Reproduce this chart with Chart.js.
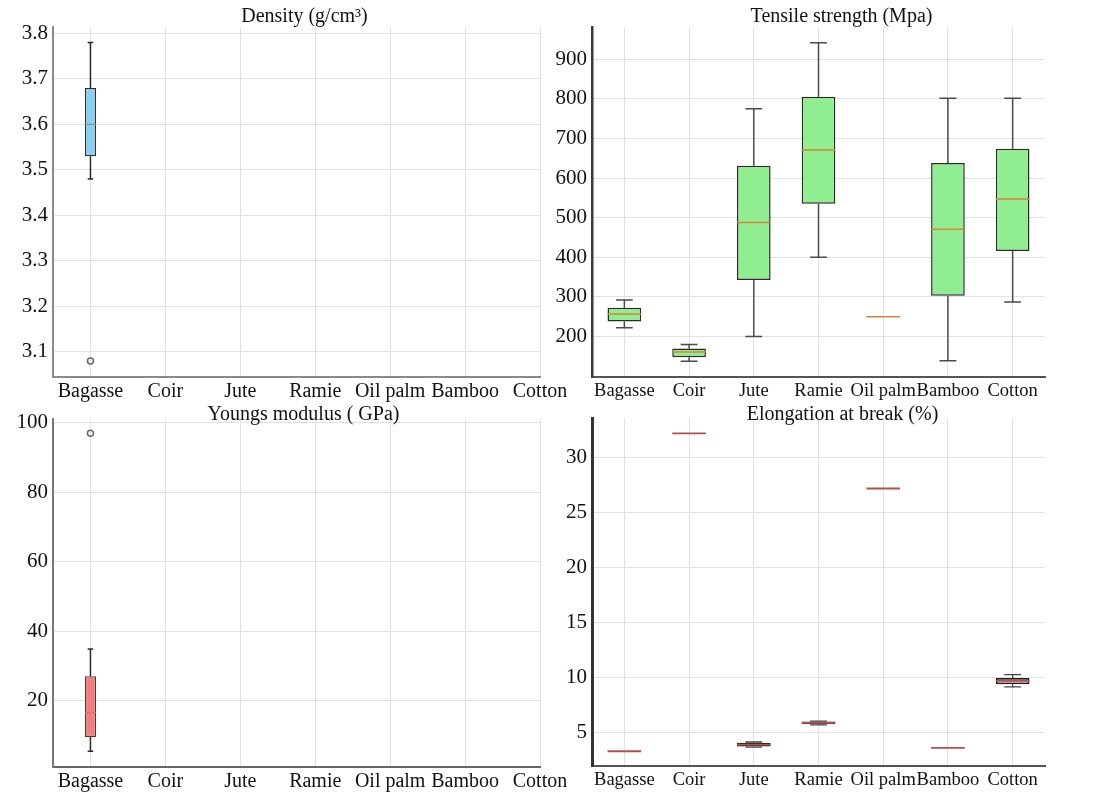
<!DOCTYPE html>
<html>
<head>
<meta charset="utf-8">
<title>Natural fibre properties</title>
<script src="https://cdn.jsdelivr.net/npm/chart.js@4.4.1/dist/chart.umd.min.js"></script>
<style>
  html, body { margin: 0; padding: 0; background: #ffffff; }
  #sheet { position: relative; width: 1119px; height: 800px; overflow: hidden; background: #ffffff; }
  #sheet canvas { position: absolute; }
</style>
</head>
<body>
<div id="sheet">
  <canvas id="density"    width="600" height="410" style="left:0px;top:0px"></canvas>
  <canvas id="tensile"    width="589" height="410" style="left:530px;top:0px"></canvas>
  <canvas id="youngs"     width="600" height="410" style="left:0px;top:390px"></canvas>
  <canvas id="elongation" width="589" height="410" style="left:530px;top:390px"></canvas>
</div>
<script>
// Fibre categories shared by all four panels
const fibres = ['Bagasse', 'Coir', 'Jute', 'Ramie', 'Oil palm', 'Bamboo', 'Cotton'];

// Density (g/cm³): five-number summaries per fibre (null = no data)
const densityMin      = [3.48, null, null, null, null, null, null];
const densityQ1       = [3.53, null, null, null, null, null, null];
const densityMedian   = [3.60, null, null, null, null, null, null];
const densityQ3       = [3.68, null, null, null, null, null, null];
const densityMax      = [3.78, null, null, null, null, null, null];
const densityOutliers = [[3.08], [], [], [], [], [], []];
const densityTicks    = [3.1, 3.2, 3.3, 3.4, 3.5, 3.6, 3.7, 3.8];

// Tensile strength (MPa)
const tensileMin      = [222, 138, 200, 400, 250, 139, 287];
const tensileQ1       = [238, 148, 343, 535, 250, 303, 416];
const tensileMedian   = [257, 161, 488, 671, 250, 471, 547];
const tensileQ3       = [273, 170, 631, 805, 250, 638, 674];
const tensileMax      = [292, 180, 775, 941, 250, 801, 801];
const tensileOutliers = [[], [], [], [], [], [], []];
const tensileTicks    = [200, 300, 400, 500, 600, 700, 800, 900];

// Young's modulus (GPa)
const youngsMin      = [5.5, null, null, null, null, null, null];
const youngsQ1       = [9.6, null, null, null, null, null, null];
const youngsMedian   = [16.6, null, null, null, null, null, null];
const youngsQ3       = [27.1, null, null, null, null, null, null];
const youngsMax      = [34.9, null, null, null, null, null, null];
const youngsOutliers = [[96.9], [], [], [], [], [], []];
const youngsTicks    = [20, 40, 60, 80, 100];

// Elongation at break (%)
const elongationMin      = [3.34, 32.2, 3.72, 5.74, 27.2, 3.64, 9.18];
const elongationQ1       = [3.34, 32.2, 3.78, 5.78, 27.2, 3.64, 9.43];
const elongationMedian   = [3.34, 32.2, 3.95, 5.92, 27.2, 3.64, 9.73];
const elongationQ3       = [3.34, 32.2, 4.12, 6.05, 27.2, 3.64, 10.0];
const elongationMax      = [3.34, 32.2, 4.18, 6.08, 27.2, 3.64, 10.3];
const elongationOutliers = [[], [], [], [], [], [], []];
const elongationTicks    = [5, 10, 15, 20, 25, 30];

const SERIF = '"Liberation Serif", "Times New Roman", serif';

// Whiskers, caps and median lines drawn from the bar elements and the y scale
function boxWhiskerPlugin(stats, style) {
  return {
    id: 'boxWhiskers',
    afterDatasetsDraw(chart) {
      const meta = chart.getDatasetMeta(0);
      const yScale = chart.scales.y;
      const ctx = chart.ctx;
      ctx.save();
      meta.data.forEach((bar, j) => {
        const i = chart.data.datasets[0].data[j].x;
        const cx = bar.x;
        const half = bar.width / 2;
        const cap = bar.width / 4;
        const yMin = yScale.getPixelForValue(stats.min[i]);
        const yQ1 = yScale.getPixelForValue(stats.q1[i]);
        const yQ3 = yScale.getPixelForValue(stats.q3[i]);
        const yMax = yScale.getPixelForValue(stats.max[i]);
        const yMed = yScale.getPixelForValue(stats.median[i]);
        ctx.strokeStyle = style.whiskerColor;
        ctx.lineWidth = style.whiskerWidth;
        ctx.beginPath();
        if (stats.max[i] > stats.q3[i]) {
          ctx.moveTo(cx, yQ3); ctx.lineTo(cx, yMax);
          ctx.moveTo(cx - cap, yMax); ctx.lineTo(cx + cap, yMax);
        }
        if (stats.min[i] < stats.q1[i]) {
          ctx.moveTo(cx, yQ1); ctx.lineTo(cx, yMin);
          ctx.moveTo(cx - cap, yMin); ctx.lineTo(cx + cap, yMin);
        }
        ctx.stroke();
        ctx.strokeStyle = style.medianColor;
        ctx.lineWidth = style.medianWidth;
        ctx.beginPath();
        ctx.moveTo(cx - half, yMed);
        ctx.lineTo(cx + half, yMed);
        ctx.stroke();
      });
      ctx.restore();
    }
  };
}

// Panel heading placed above the plotting area
function panelTitlePlugin(text, dx, dy) {
  return {
    id: 'panelTitle',
    afterDraw(chart) {
      const { ctx, chartArea } = chart;
      ctx.save();
      ctx.font = '20px ' + SERIF;
      ctx.fillStyle = '#111111';
      ctx.textAlign = 'center';
      ctx.textBaseline = 'middle';
      ctx.fillText(text, (chartArea.left + chartArea.right) / 2 + dx, chartArea.top + dy);
      ctx.restore();
    }
  };
}

function makePanel(id, s) {
  const boxes = [];
  fibres.forEach((f, i) => {
    if (s.q1[i] !== null) boxes.push({ x: i, y: [s.q1[i], s.q3[i]] });
  });
  const outlierPoints = [];
  s.outliers.forEach((list, i) => list.forEach(v => outlierPoints.push({ x: i, y: v })));

  return new Chart(document.getElementById(id), {
    type: 'bar',
    data: {
      datasets: [
        {
          type: 'bar',
          data: boxes,
          backgroundColor: s.fill,
          borderColor: s.edge,
          borderWidth: s.edgeWidth,
          borderSkipped: false,
          categoryPercentage: 1,
          barPercentage: s.boxFraction
        },
        {
          type: 'scatter',
          data: outlierPoints,
          pointStyle: 'circle',
          pointRadius: 3,
          borderColor: '#666666',
          backgroundColor: 'rgba(255,255,255,0)',
          borderWidth: 1.5
        }
      ]
    },
    options: {
      responsive: false,
      animation: false,
      events: [],
      layout: { padding: { top: s.padTop, right: s.padRight, left: 0, bottom: 0 } },
      plugins: { legend: { display: false }, tooltip: { enabled: false }, title: { display: false } },
      scales: {
        x: {
          type: 'linear',
          min: -0.5,
          max: s.xMax,
          offset: false,
          afterBuildTicks: scale => { scale.ticks = fibres.map((f, i) => ({ value: i })); },
          afterFit: scale => { scale.height = s.xAxisHeight; },
          grid: { color: '#e2e2e2', lineWidth: 1, offset: false, drawTicks: false },
          border: { display: true, color: s.bottomAxisColor, width: 2 },
          ticks: {
            autoSkip: false,
            maxRotation: 0,
            minRotation: 0,
            padding: 3,
            color: '#111111',
            font: { family: SERIF, size: s.xFont },
            callback: v => fibres[Math.round(v)]
          }
        },
        y: {
          type: 'linear',
          min: s.yMin,
          max: s.yMax,
          beginAtZero: false,
          afterBuildTicks: scale => { scale.ticks = s.ticks.map(v => ({ value: v })); },
          afterFit: scale => { scale.width = s.yAxisWidth; },
          grid: { color: '#e2e2e2', lineWidth: 1, drawTicks: false },
          border: { display: true, color: s.leftAxisColor, width: s.leftAxisWidth },
          ticks: {
            padding: 5,
            color: '#111111',
            font: { family: SERIF, size: 21 },
            callback: v => s.decimals ? v.toFixed(s.decimals) : String(v)
          }
        }
      }
    },
    plugins: [
      boxWhiskerPlugin(s, s.lineStyle),
      panelTitlePlugin(s.title, s.titleDx, s.titleDy)
    ]
  });
}

makePanel('density', {
  title: 'Density (g/cm³)', titleDx: 8, titleDy: -10,
  min: densityMin, q1: densityQ1, median: densityMedian, q3: densityQ3, max: densityMax,
  outliers: densityOutliers, ticks: densityTicks, decimals: 1,
  yMin: 3.045, yMax: 3.814, xMax: 6,
  padTop: 27, padRight: 60, yAxisWidth: 53, xAxisHeight: 33, xFont: 20,
  fill: '#8ccfee', edge: '#2e2e2e', edgeWidth: 1.3, boxFraction: 0.15,
  leftAxisColor: '#8a8a8a', leftAxisWidth: 2, bottomAxisColor: '#8a8a8a',
  lineStyle: { whiskerColor: '#2a2a2a', whiskerWidth: 1.5, medianColor: '#7f9097', medianWidth: 1 }
});

makePanel('tensile', {
  title: 'Tensile strength (Mpa)', titleDx: 23, titleDy: -10,
  min: tensileMin, q1: tensileQ1, median: tensileMedian, q3: tensileQ3, max: tensileMax,
  outliers: tensileOutliers, ticks: tensileTicks, decimals: 0,
  yMin: 98, yMax: 981, xMax: 6.5,
  padTop: 27, padRight: 74, yAxisWidth: 62, xAxisHeight: 33, xFont: 18.5,
  fill: '#90ee90', edge: '#2a2a2a', edgeWidth: 1.5, boxFraction: 0.52,
  leftAxisColor: '#3a3a3a', leftAxisWidth: 2.5, bottomAxisColor: '#555555',
  lineStyle: { whiskerColor: '#4a4a4a', whiskerWidth: 1.5, medianColor: '#d9823b', medianWidth: 1.5 }
});

makePanel('youngs', {
  title: 'Youngs modulus ( GPa)', titleDx: 7, titleDy: -4,
  min: youngsMin, q1: youngsQ1, median: youngsMedian, q3: youngsQ3, max: youngsMax,
  outliers: youngsOutliers, ticks: youngsTicks, decimals: 0,
  yMin: 1, yMax: 101, xMax: 6,
  padTop: 29, padRight: 60, yAxisWidth: 53, xAxisHeight: 33, xFont: 20,
  fill: '#f08080', edge: '#5a3434', edgeWidth: 1.3, boxFraction: 0.15,
  leftAxisColor: '#777777', leftAxisWidth: 2, bottomAxisColor: '#666666',
  lineStyle: { whiskerColor: '#2a2a2a', whiskerWidth: 1.5, medianColor: '#d8735e', medianWidth: 1 }
});

makePanel('elongation', {
  title: 'Elongation at break (%)', titleDx: 24, titleDy: -3,
  min: elongationMin, q1: elongationQ1, median: elongationMedian, q3: elongationQ3, max: elongationMax,
  outliers: elongationOutliers, ticks: elongationTicks, decimals: 0,
  yMin: 2, yMax: 33.6, xMax: 6.5,
  padTop: 28, padRight: 74, yAxisWidth: 62, xAxisHeight: 34, xFont: 18.5,
  fill: '#eaa3b4', edge: '#1e1e1e', edgeWidth: 1.8, boxFraction: 0.52,
  leftAxisColor: '#333333', leftAxisWidth: 3, bottomAxisColor: '#555555',
  lineStyle: { whiskerColor: '#444444', whiskerWidth: 1.3, medianColor: '#b0524c', medianWidth: 1.8 }
});
</script>
</body>
</html>
